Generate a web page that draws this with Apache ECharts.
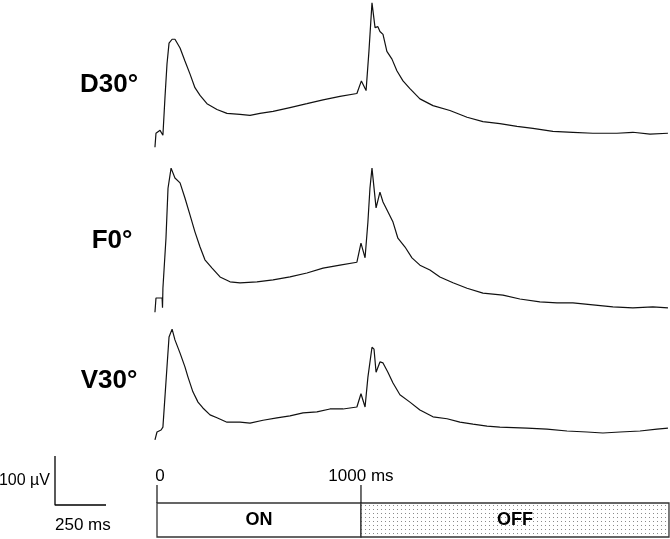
<!DOCTYPE html>
<html>
<head>
<meta charset="utf-8">
<script src="https://cdn.jsdelivr.net/npm/echarts@6/dist/echarts.min.js"></script>
<style>
  html, body { margin: 0; padding: 0; background: #fff; }
  #chart { width: 670px; height: 539px; }
</style>
</head>
<body>
<div id="chart"></div>
<script>
// traces, time in ms from stimulus onset, amplitude in µV from pre-stimulus baseline
var d30Time = [-10, -5, 15, 29, 39, 49, 59, 74, 88, 113, 137, 162, 186, 211, 245, 294, 343, 407, 456, 505, 569, 652, 735, 814, 897, 980, 1002, 1025, 1039, 1054, 1069, 1083, 1093, 1108, 1127, 1152, 1176, 1206, 1240, 1289, 1353, 1436, 1520, 1598, 1681, 1765, 1843, 1941, 2039, 2137, 2255, 2333, 2417, 2505];
var d30Uv   = [-29, 0, 6, -4, 73, 143, 186, 194, 194, 176, 149, 122, 94, 78, 61, 49, 41, 39, 37, 41, 45, 53, 61, 69, 76, 82, 108, 88, 169, 269, 218, 220, 210, 204, 169, 153, 129, 108, 92, 71, 57, 47, 33, 24, 20, 14, 10, 4, 2, 0, 0, 2, -2, 0];

var f0Time = [-10, -5, 25, 27, 29, 44, 54, 69, 74, 88, 113, 137, 162, 186, 211, 235, 270, 309, 358, 407, 490, 569, 652, 735, 814, 897, 980, 1000, 1020, 1034, 1044, 1054, 1074, 1093, 1108, 1132, 1157, 1181, 1216, 1250, 1289, 1338, 1387, 1451, 1520, 1598, 1696, 1779, 1877, 1961, 2039, 2137, 2235, 2333, 2431, 2505];
var f0Uv   = [-29, 0, 0, -20, 20, 122, 224, 265, 267, 245, 235, 204, 169, 135, 104, 78, 61, 43, 33, 31, 33, 37, 43, 51, 61, 67, 73, 112, 82, 155, 224, 265, 184, 216, 196, 176, 155, 122, 104, 82, 67, 57, 43, 31, 20, 10, 6, -2, -8, -10, -10, -14, -18, -20, -18, -20];

var v30Time = [-10, 0, 20, 29, 49, 59, 74, 88, 113, 137, 152, 176, 201, 225, 260, 294, 343, 407, 456, 520, 588, 652, 716, 784, 848, 912, 980, 1000, 1020, 1034, 1054, 1064, 1074, 1093, 1108, 1132, 1157, 1191, 1240, 1289, 1353, 1422, 1485, 1549, 1618, 1681, 1814, 1912, 2010, 2108, 2186, 2270, 2368, 2451, 2505];
var v30Uv   = [-16, 0, 4, 10, 133, 194, 210, 188, 161, 133, 112, 82, 61, 49, 35, 29, 20, 20, 18, 24, 29, 33, 39, 41, 47, 47, 51, 78, 51, 112, 173, 169, 122, 143, 141, 122, 100, 76, 61, 45, 31, 27, 20, 16, 12, 10, 8, 6, 2, 0, -2, 0, 2, 6, 8];

var traceNames = ['D30°', 'F0°', 'V30°'];

// stimulus timeline
var phaseNames = ['ON', 'OFF'];
var phaseStart = [0, 1000];
var phaseEnd   = [1000, 2510];
var tickValues = [0, 1000];
var tickLabels = ['0', '1000 ms'];

// scale bar
var barMs = 250;
var barUv = 100;

var PX_PER_MS = 0.204;
var PX_PER_UV = 0.49;
var T_MIN = -15, T_MAX = 2515;
var UV_MIN = -45, UV_MAX = 275;
var plotLeft = 157 + T_MIN * PX_PER_MS;
var plotWidth = (T_MAX - T_MIN) * PX_PER_MS;
var baselines = [133, 298, 432];
var labelPos = [[109, 85], [112, 241], [109, 381]];
var font = '"Liberation Sans", Arial, sans-serif';

function pairs(t, v) {
  var out = [];
  for (var i = 0; i < t.length; i++) out.push([t[i], v[i]]);
  return out;
}
var traces = [pairs(d30Time, d30Uv), pairs(f0Time, f0Uv), pairs(v30Time, v30Uv)];

// dotted fill for the OFF period
var dots = document.createElement('canvas');
dots.width = 4; dots.height = 4;
var dctx = dots.getContext('2d');
dctx.fillStyle = '#ffffff';
dctx.fillRect(0, 0, 4, 4);
dctx.fillStyle = '#8a8a8a';
dctx.fillRect(1, 1, 1, 1);

var grids = [], xAxes = [], yAxes = [], series = [], graphics = [];

traces.forEach(function(data, i) {
  grids.push({
    left: plotLeft, width: plotWidth,
    top: baselines[i] - UV_MAX * PX_PER_UV,
    height: (UV_MAX - UV_MIN) * PX_PER_UV
  });
  xAxes.push({ type: 'value', gridIndex: i, min: T_MIN, max: T_MAX, show: false });
  yAxes.push({ type: 'value', gridIndex: i, min: UV_MIN, max: UV_MAX, show: false });
  series.push({
    type: 'line', xAxisIndex: i, yAxisIndex: i, data: data,
    showSymbol: false, symbol: 'none', clip: false, silent: true,
    lineStyle: { color: '#111', width: 1.2 }
  });
  graphics.push({
    type: 'text', x: labelPos[i][0], y: labelPos[i][1],
    style: { text: traceNames[i], font: 'bold 26px ' + font, fill: '#000', align: 'center', verticalAlign: 'middle' }
  });
});

// timeline grid
grids.push({ left: plotLeft, width: plotWidth, top: 503, height: 35 });
xAxes.push({ type: 'value', gridIndex: 3, min: T_MIN, max: T_MAX, show: false });
yAxes.push({ type: 'value', gridIndex: 3, min: 0, max: 1, show: false });
series.push({
  type: 'custom', xAxisIndex: 3, yAxisIndex: 3, silent: true, clip: false,
  data: phaseNames.map(function(n, i) { return [phaseStart[i], phaseEnd[i], i]; }),
  renderItem: function(params, api) {
    var i = api.value(2);
    var p0 = api.coord([api.value(0), 1]);
    var p1 = api.coord([api.value(1), 0]);
    return {
      type: 'group',
      children: [{
        type: 'rect',
        shape: { x: p0[0], y: p0[1], width: p1[0] - p0[0], height: p1[1] - p0[1] - 1 },
        style: { fill: i === 1 ? { image: dots, repeat: 'repeat' } : '#fff', stroke: '#333', lineWidth: 1.3 }
      }, {
        type: 'text',
        x: (p0[0] + p1[0]) / 2, y: (p0[1] + p1[1]) / 2,
        style: { text: phaseNames[i], font: 'bold 18px ' + font, fill: '#000', align: 'center', verticalAlign: 'middle' }
      }]
    };
  }
});
series.push({
  type: 'custom', xAxisIndex: 3, yAxisIndex: 3, silent: true, clip: false,
  data: tickValues.map(function(v, i) { return [v, i]; }),
  renderItem: function(params, api) {
    var p = api.coord([api.value(0), 1]);
    var i = api.value(1);
    return {
      type: 'group',
      children: [{
        type: 'line',
        shape: { x1: p[0], y1: p[1], x2: p[0], y2: p[1] - 18 },
        style: { stroke: '#222', lineWidth: 1.3 }
      }, {
        type: 'text', x: p[0] + (i === 0 ? 3 : 0), y: p[1] - 27,
        style: { text: tickLabels[i], font: '17px ' + font, fill: '#000', align: 'center', verticalAlign: 'middle' }
      }]
    };
  }
});

// scale bar grid
grids.push({ left: 55, top: 456, width: barMs * PX_PER_MS, height: barUv * PX_PER_UV });
xAxes.push({ type: 'value', gridIndex: 4, min: 0, max: barMs, show: false });
yAxes.push({ type: 'value', gridIndex: 4, min: 0, max: barUv, show: false });
series.push({
  type: 'line', xAxisIndex: 4, yAxisIndex: 4, data: [[0, barUv], [0, 0], [barMs, 0]],
  showSymbol: false, symbol: 'none', clip: false, silent: true,
  lineStyle: { color: '#000', width: 1.3 }
});
graphics.push({
  type: 'text', x: 50, y: 481,
  style: { text: barUv + ' µV', font: '16px ' + font, fill: '#000', align: 'right', verticalAlign: 'middle' }
});
graphics.push({
  type: 'text', x: 55, y: 525,
  style: { text: barMs + ' ms', font: '17px ' + font, fill: '#000', align: 'left', verticalAlign: 'middle' }
});

var myChart = echarts.init(document.getElementById('chart'));
myChart.setOption({
  animation: false,
  backgroundColor: '#fff',
  grid: grids,
  xAxis: xAxes,
  yAxis: yAxes,
  series: series,
  graphic: graphics
});
</script>
</body>
</html>
